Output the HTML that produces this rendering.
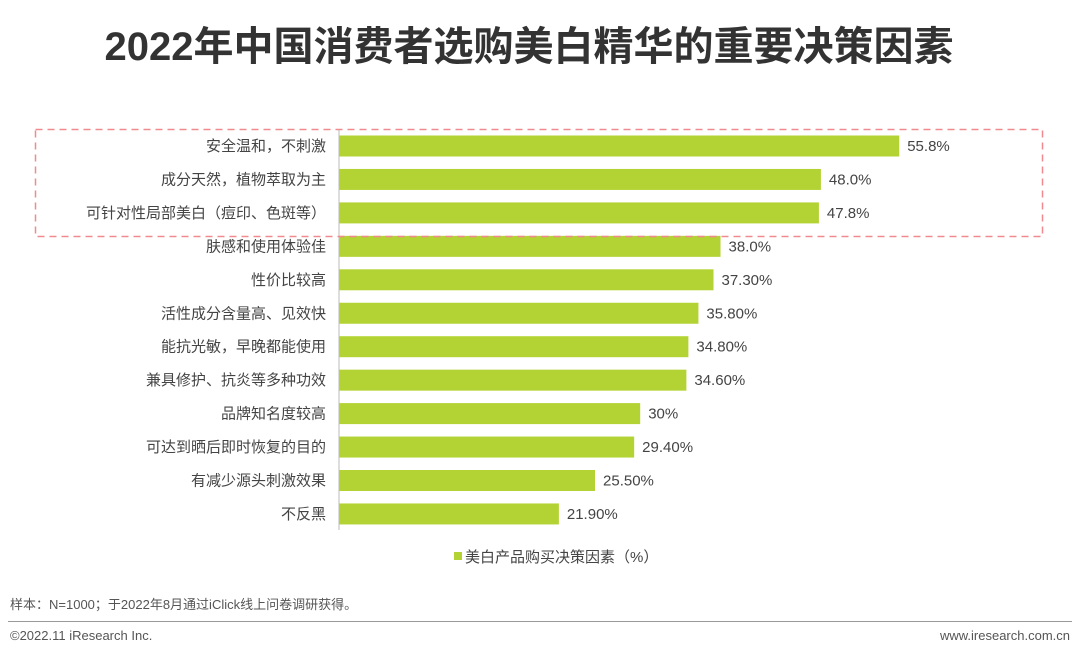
<!DOCTYPE html>
<html><head><meta charset="utf-8"><style>
body{margin:0;background:#fff;font-family:"Liberation Sans","Noto Sans CJK SC",sans-serif;}
#wrap{position:relative;width:1080px;height:657px;overflow:hidden;}
.t{position:absolute;white-space:nowrap;}
</style></head><body>
<div id="wrap">
<div class="t" style="left:0;width:1058px;text-align:center;top:14px;font-size:40px;font-weight:bold;color:#333;">2022年中国消费者选购美白精华的重要决策因素</div>
<svg id="chart" width="1080" height="657" style="position:absolute;left:0;top:0"></svg>
<div class="t" style="left:10px;top:594px;font-size:13px;color:#555;">样本：N=1000；于2022年8月通过iClick线上问卷调研获得。</div>
<div style="position:absolute;left:8px;top:621px;width:1064px;height:1px;background:#999;"></div>
<div class="t" style="left:10px;top:628px;font-size:13px;color:#555;">©2022.11 iResearch Inc.</div>
<div class="t" style="right:10px;top:628px;font-size:13px;color:#555;">www.iresearch.com.cn</div>
</div>
<script>
const categories=["安全温和，不刺激","成分天然，植物萃取为主","可针对性局部美白（痘印、色斑等）","肤感和使用体验佳","性价比较高","活性成分含量高、见效快","能抗光敏，早晚都能使用","兼具修护、抗炎等多种功效","品牌知名度较高","可达到晒后即时恢复的目的","有减少源头刺激效果","不反黑"];
const values=[55.8,48.0,47.8,38.0,37.3,35.8,34.8,34.6,30,29.4,25.5,21.9];
const valueLabels=["55.8%","48.0%","47.8%","38.0%","37.30%","35.80%","34.80%","34.60%","30%","29.40%","25.50%","21.90%"];
const legendLabel="美白产品购买决策因素（%）";
const svg=document.getElementById('chart');const NS='http://www.w3.org/2000/svg';
const x0=339,pxPer=10.04,yTop=146,step=33.45,bh=21;
const xs=v=>x0+v*pxPer, ys=i=>yTop+i*step;
function mk(tag,attrs){const e=document.createElementNS(NS,tag);for(const k in attrs)e.setAttribute(k,attrs[k]);svg.appendChild(e);return e;}
categories.forEach((c,i)=>{
 const r=mk('rect',{x:x0,y:ys(i)-bh/2,width:xs(values[i])-x0,height:bh,fill:'#b3d334'});
 
 
 const t=mk('text',{x:x0-13,y:ys(i)+5,'text-anchor':'end','font-size':15,fill:'#444'});t.textContent=c;
 
 
 const v=mk('text',{x:xs(values[i])+8,y:ys(i)+5,'font-size':15,fill:'#444'});v.textContent=valueLabels[i];
 
 
});
const ax=mk('line',{x1:x0,y1:129,x2:x0,y2:530,stroke:'#bbb','stroke-width':1});


const box=mk('rect',{x:35.5,y:129.5,width:1007,height:107,fill:'none',stroke:'#f08a8f','stroke-width':1.5,'stroke-dasharray':'7,5'});


const lg=mk('rect',{x:454,y:552,width:8,height:8,fill:'#b3d334'});


const lt=mk('text',{x:465,y:562,'font-size':15,fill:'#444'});lt.textContent=legendLabel;


</script>
</body></html>
